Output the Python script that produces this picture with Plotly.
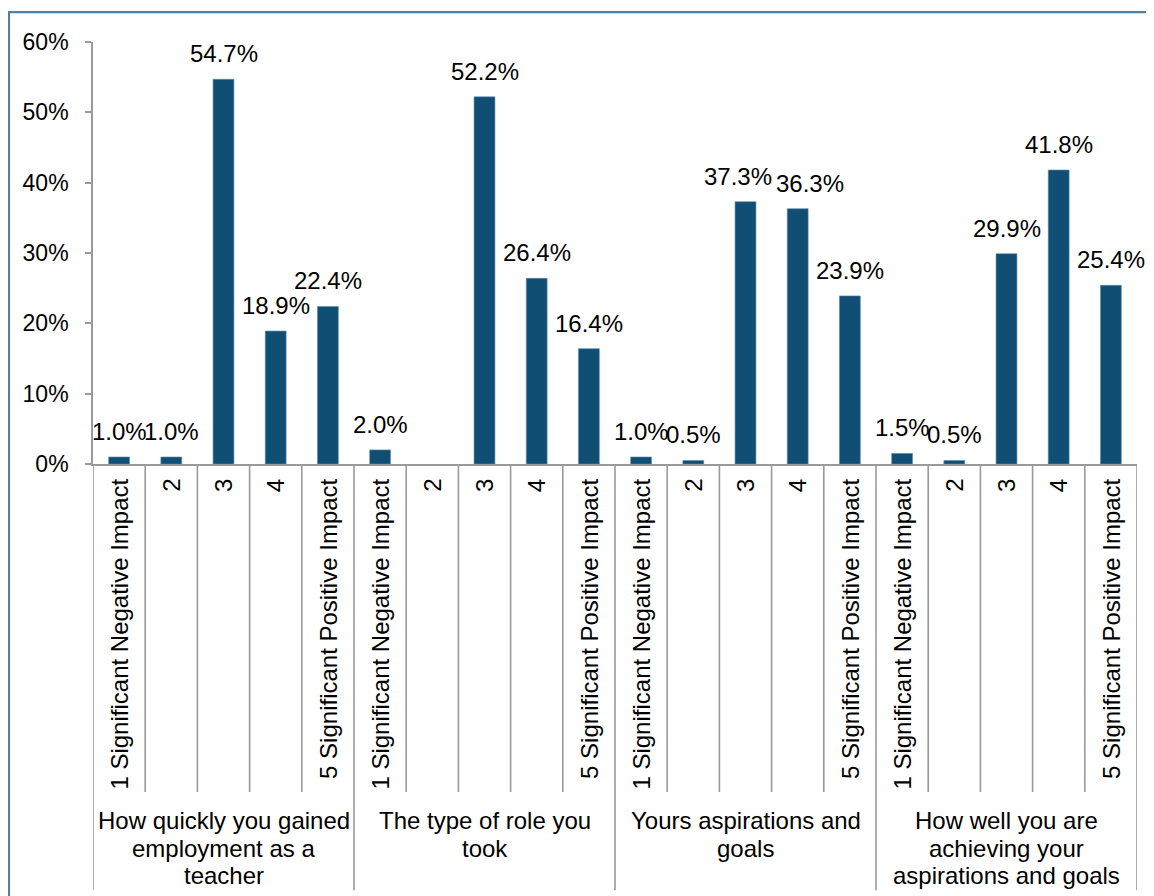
import plotly.graph_objects as go

# =========================
# DATA
# =========================
GROUPS = [
    ["How quickly you gained", "employment as a", "teacher"],
    ["The type of role you", "took"],
    ["Yours aspirations and", "goals"],
    ["How well you are", "achieving your", "aspirations and goals"],
]

SCALE = [
    "1 Significant Negative Impact",
    "2",
    "3",
    "4",
    "5 Significant Positive Impact",
]

SHARE_QUICKLY = [1.0, 1.0, 54.7, 18.9, 22.4]
SHARE_ROLE = [2.0, None, 52.2, 26.4, 16.4]
SHARE_ASPIRATIONS = [1.0, 0.5, 37.3, 36.3, 23.9]
SHARE_ACHIEVING = [1.5, 0.5, 29.9, 41.8, 25.4]

Y_TICKS = [0, 10, 20, 30, 40, 50, 60]

BAR = "#114E74"
AXIS_GRAY = "#9A9A9A"
FRAME = "#4F7FA3"
FONT = "Liberation Sans, Arial, sans-serif"
LABEL_SIZE = 24
LINE_STEP = 27.5

# labels that Excel nudged sideways to avoid overlap (bar index -> px)
LABEL_NUDGE = {12: -8, 13: 12}

# =========================
# BUILD
# =========================
values = SHARE_QUICKLY + SHARE_ROLE + SHARE_ASPIRATIONS + SHARE_ACHIEVING
n_scale = len(SCALE)
xs = [i + 0.5 for i in range(len(values))]

fig = go.Figure(go.Bar(
    x=xs,
    y=values,
    marker=dict(color=BAR, line=dict(color="#5C8BB0", width=0.6)),
    width=0.4,
    hovertemplate="%{y:.1f}%<extra></extra>",
))

shapes = []
annotations = []

# value labels above bars
for i, (x, v) in enumerate(zip(xs, values)):
    if v is None:
        continue
    annotations.append(dict(
        x=x, y=v, xref="x", yref="y",
        text=f"{v:.1f}%",
        showarrow=False,
        xanchor="center", yanchor="bottom",
        xshift=LABEL_NUDGE.get(i, 0),
        yshift=10,
        font=dict(size=LABEL_SIZE, color="black", family=FONT),
    ))

# category separators (inner short, group long)
for i in range(len(values) + 1):
    is_group = i % n_scale == 0
    shapes.append(dict(
        type="line", xref="x", yref="paper",
        x0=i, x1=i, y0=0, y1=-1.01 if is_group else -0.777,
        line=dict(color=AXIS_GRAY, width=1.6),
    ))

# rotated scale labels
for i, x in enumerate(xs):
    annotations.append(dict(
        x=x, y=0, xref="x", yref="paper",
        text=SCALE[i % n_scale],
        textangle=-90,
        showarrow=False,
        xanchor="center", yanchor="top",
        yshift=-13,
        font=dict(size=LABEL_SIZE, color="black", family=FONT),
    ))

# group labels, one annotation per line for tighter spacing
for g, lines in enumerate(GROUPS):
    for k, line in enumerate(lines):
        annotations.append(dict(
            x=g * n_scale + n_scale / 2, y=0, xref="x", yref="paper",
            text=line,
            showarrow=False,
            xanchor="center", yanchor="top",
            yshift=-341 - k * LINE_STEP,
            font=dict(size=LABEL_SIZE, color="black", family=FONT),
        ))

# outer chart frame (left and top edges visible)
shapes.append(dict(
    type="path", xref="paper", yref="paper",
    path="M -0.0805,-1.2 L -0.0805,1.071 L 1.2,1.071",
    line=dict(color=FRAME, width=2.2),
))

fig.update_layout(
    width=1154,
    height=896,
    paper_bgcolor="white",
    plot_bgcolor="white",
    font=dict(family=FONT, size=23, color="black"),
    margin=dict(l=85, r=25, t=34, b=440),
    showlegend=False,
    xaxis=dict(
        range=[0, len(values)],
        showticklabels=False,
        showgrid=False,
        zeroline=False,
        showline=True,
        linecolor=AXIS_GRAY,
        linewidth=1.6,
        ticks="",
        fixedrange=True,
    ),
    yaxis=dict(
        range=[0, 60],
        tickvals=Y_TICKS,
        ticktext=[f"{v}%" for v in Y_TICKS],
        showgrid=False,
        zeroline=False,
        showline=True,
        linecolor=AXIS_GRAY,
        linewidth=1.6,
        ticks="outside",
        ticklen=6,
        tickcolor=AXIS_GRAY,
        tickwidth=1.6,
        ticklabelstandoff=12,
        tickfont=dict(size=23, color="black", family=FONT),
    ),
    shapes=shapes,
    annotations=annotations,
)

fig.write_html("out.html")
